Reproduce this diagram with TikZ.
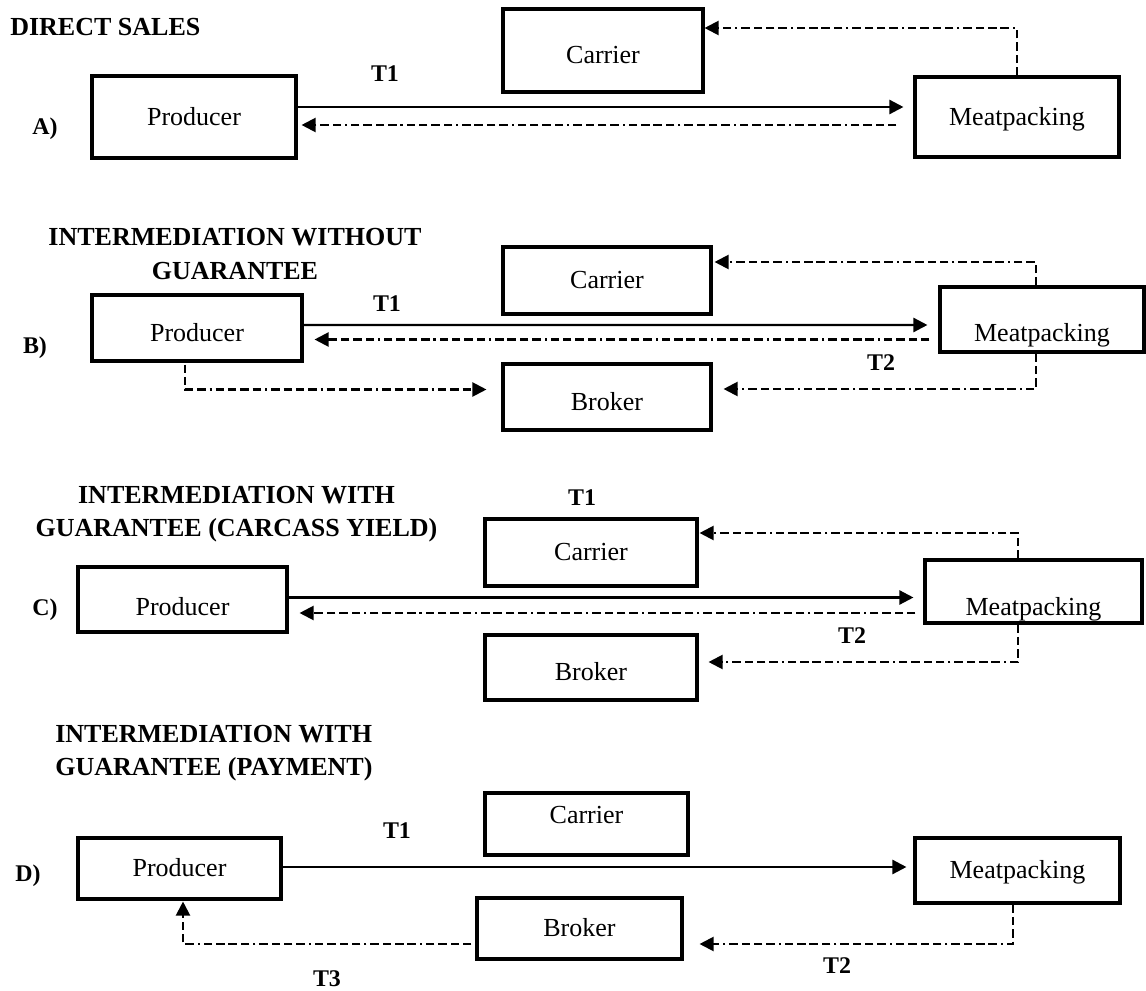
\documentclass[tikz,border=0pt]{standalone}
\usepackage{fontspec}
\setmainfont{Liberation Serif}
\usetikzlibrary{arrows.meta,calc}

\newcommand{\boxfont}{\fontsize{18.5}{22}\selectfont}
\newcommand{\headfont}{\fontsize{18.5}{23.5}\selectfont\bfseries}
\newcommand{\tagfont}{\fontsize{17}{20}\selectfont\bfseries}

\begin{document}
\begin{tikzpicture}[x=0.025cm,y=-0.025cm,
	box/.style={draw,line width=2.2pt,inner sep=0pt,font=\boxfont,text height=16pt,text depth=4pt},
	boxsize/.style 2 args={minimum width=#1*0.025cm,minimum height=#2*0.025cm},
	head/.style={font=\headfont,inner sep=0pt},
	tag/.style={font=\tagfont,inner sep=0pt,text height=11.5pt,text depth=0pt},
	flow/.style={line width=1.7pt,-{Triangle[length=10pt,width=10pt]}},
	back/.style={line width=1.5pt,dash pattern=on 6pt off 2.8pt on 6pt off 2.8pt on 6pt off 2.8pt on 6pt off 2.8pt on 1.5pt off 2.8pt,-{Triangle[length=10pt,width=10pt]}}]
		\useasboundingbox (0,0) rectangle (1146,991);
		\begin{scope}
			\node[head,anchor=west] (headA) at (10,27) {DIRECT SALES};
			\node[tag] (tagA) at (45,126) {A)};
			\node[box,boxsize={204}{82}] (prodA) at (194,117) {Producer};
			\node[box,boxsize={200}{83},text height=22.4pt] (carA) at (603,50.5) {Carrier};
			\node[box,boxsize={204}{80}] (meatA) at (1017,117) {Meatpacking};
			\node[tag] (tA1) at (385,73) {T1};
			\draw[flow] ($(prodA.east)+(0,-10)$) -- ($(meatA.west)+(-10,-10)$);
			\draw[back] ($(meatA.west)+(-17,8)$) -- ($(prodA.east)+(4,8)$);
			\draw[back] (meatA.north) |- ($(carA.east)+(0,-22.5)$);
		\end{scope}
		\begin{scope}
			\node[head,align=center] (headB) at (235,254) {INTERMEDIATION WITHOUT\\GUARANTEE};
			\node[tag] (tagB) at (35,345) {B)};
			\node[box,boxsize={210}{66},text height=23.2pt] (prodB) at (197,328) {Producer};
			\node[box,boxsize={208}{67}] (carB) at (607,280.5) {Carrier};
			\node[box,boxsize={208}{66},text height=23.2pt] (brokB) at (607,397) {Broker};
			\node[box,boxsize={204}{65},text height=35.2pt] (meatB) at (1042,319.5) {Meatpacking};
			\node[tag] (tB1) at (387,303) {T1};
			\node[tag] (tB2) at (881,362) {T2};
			\draw[flow] ($(prodB.east)+(0,-3)$) -- ($(meatB.west)+(-11,5.5)$);
			\draw[back] ($(meatB.west)+(-9,20)$) -- ($(prodB.east)+(11,11.5)$);
			\draw[back] ($(meatB.north)+(-6,0)$) |- ($(carB.east)+(2,-18.5)$);
			\draw[back] ($(meatB.south)+(-6,0)$) |- ($(brokB.east)+(11,-8)$);
			\draw[back] ($(prodB.south)+(-12,2)$) |- ($(brokB.west)+(-15,-7.5)$);
		\end{scope}
		\begin{scope}
			\node[head,align=center] (headC) at (236.5,514) {INTERMEDIATION WITH\\GUARANTEE (CARCASS YIELD)};
			\node[tag] (tagC) at (45,607) {C)};
			\node[box,boxsize={209}{65},text height=26.6pt] (prodC) at (182.5,599.5) {Producer};
			\node[box,boxsize={212}{67}] (carC) at (591,552.5) {Carrier};
			\node[box,boxsize={212}{65},text height=22.4pt] (brokC) at (591,667.5) {Broker};
			\node[box,boxsize={217}{63},text height=38pt] (meatC) at (1033.5,591.5) {Meatpacking};
			\node[tag] (tC1) at (582,497) {T1};
			\node[tag] (tC2) at (852,635) {T2};
			\draw[flow] ($(prodC.east)+(0,-2)$) -- ($(meatC.west)+(-10,6)$);
			\draw[back] ($(meatC.west)+(-8,21.5)$) -- ($(prodC.east)+(11,13.5)$);
			\draw[back] ($(meatC.north)+(-15.5,0)$) |- ($(carC.east)+(1,-19.5)$);
			\draw[back] ($(meatC.south)+(-15.5,0)$) |- ($(brokC.east)+(10,-5.5)$);
		\end{scope}
		\begin{scope}
			\node[head,align=left,anchor=west] (headD) at (55,753.5) {INTERMEDIATION WITH\\GUARANTEE (PAYMENT)};
			\node[tag] (tagD) at (28,873) {D)};
			\node[box,boxsize={203}{61}] (prodD) at (179.5,868.5) {Producer};
			\node[box,boxsize={203}{62},text depth=16.8pt] (carD) at (586.5,824) {Carrier};
			\node[box,boxsize={205}{61}] (brokD) at (579.5,928.5) {Broker};
			\node[box,boxsize={205}{65}] (meatD) at (1017.5,870.5) {Meatpacking};
			\node[tag] (tD1) at (397,830) {T1};
			\node[tag] (tD2) at (837,965) {T2};
			\node[tag] (tD3) at (327,978) {T3};
			\draw[flow] ($(prodD.east)+(0,-1.5)$) -- ($(meatD.west)+(-7,-3.5)$);
			\draw[back] ($(meatD.south)+(-4.5,0)$) |- ($(brokD.east)+(16,15.5)$);
			\draw[back] ($(brokD.west)+(-4,15.5)$) -| ($(prodD.south)+(3.5,1)$);
		\end{scope}
	\end{tikzpicture}
\end{document}
